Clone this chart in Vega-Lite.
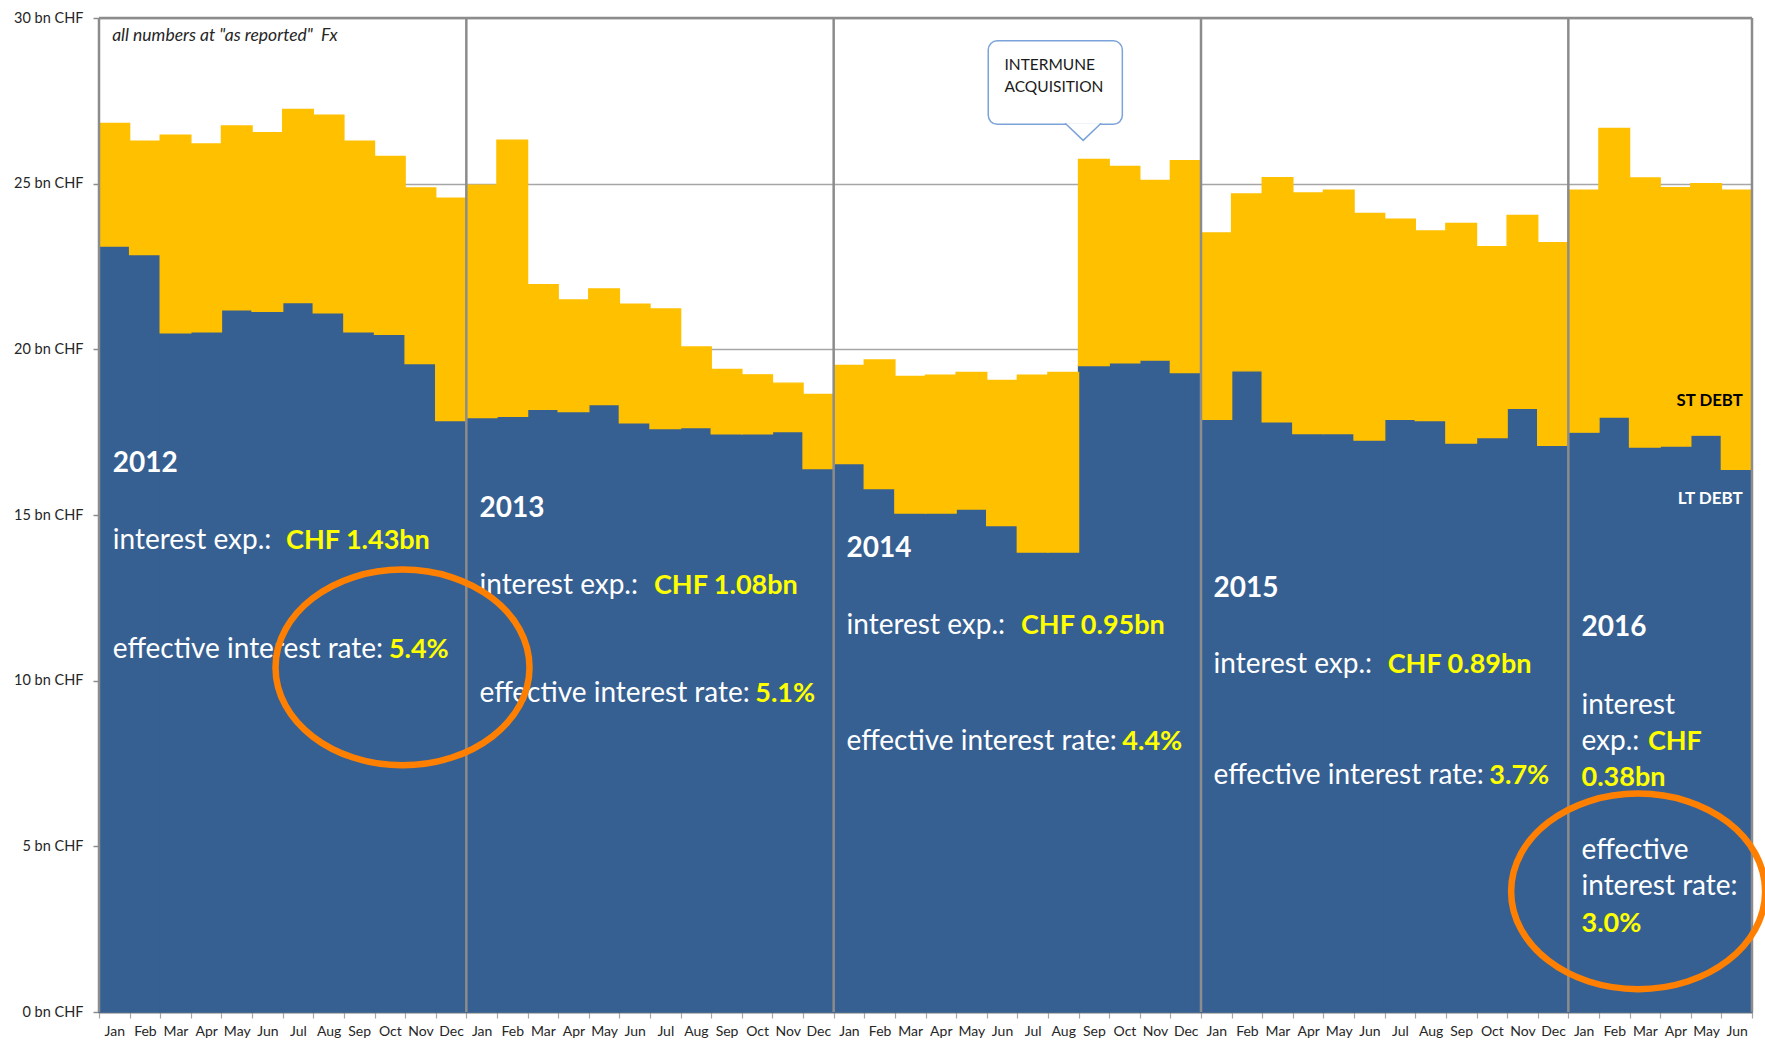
{
  "$schema": "https://vega.github.io/schema/vega-lite/v6.json",
  "width": 1653,
  "height": 994,
  "autosize": {"type": "none"},
  "padding": {"left": 99, "top": 18, "right": 13, "bottom": 29},
  "config": {"font": "Lato", "view": {"stroke": null}},
  "datasets": {
    "debt": [
      {"m": "2012-Jan", "lt": 23.12, "total": 26.82},
      {"m": "2012-Feb", "lt": 22.86, "total": 26.28},
      {"m": "2012-Mar", "lt": 20.50, "total": 26.46},
      {"m": "2012-Apr", "lt": 20.53, "total": 26.20},
      {"m": "2012-May", "lt": 21.19, "total": 26.74},
      {"m": "2012-Jun", "lt": 21.15, "total": 26.54},
      {"m": "2012-Jul", "lt": 21.41, "total": 27.24},
      {"m": "2012-Aug", "lt": 21.10, "total": 27.07},
      {"m": "2012-Sep", "lt": 20.53, "total": 26.28},
      {"m": "2012-Oct", "lt": 20.45, "total": 25.82},
      {"m": "2012-Nov", "lt": 19.57, "total": 24.87},
      {"m": "2012-Dec", "lt": 17.85, "total": 24.56},
      {"m": "2013-Jan", "lt": 17.94, "total": 24.95},
      {"m": "2013-Feb", "lt": 17.98, "total": 26.31},
      {"m": "2013-Mar", "lt": 18.19, "total": 21.95},
      {"m": "2013-Apr", "lt": 18.12, "total": 21.49},
      {"m": "2013-May", "lt": 18.33, "total": 21.82},
      {"m": "2013-Jun", "lt": 17.78, "total": 21.36},
      {"m": "2013-Jul", "lt": 17.61, "total": 21.22},
      {"m": "2013-Aug", "lt": 17.64, "total": 20.07},
      {"m": "2013-Sep", "lt": 17.45, "total": 19.39},
      {"m": "2013-Oct", "lt": 17.45, "total": 19.23},
      {"m": "2013-Nov", "lt": 17.52, "total": 18.98},
      {"m": "2013-Dec", "lt": 16.40, "total": 18.64},
      {"m": "2014-Jan", "lt": 16.55, "total": 19.51},
      {"m": "2014-Feb", "lt": 15.80, "total": 19.68},
      {"m": "2014-Mar", "lt": 15.06, "total": 19.18},
      {"m": "2014-Apr", "lt": 15.06, "total": 19.22},
      {"m": "2014-May", "lt": 15.18, "total": 19.30},
      {"m": "2014-Jun", "lt": 14.68, "total": 19.06},
      {"m": "2014-Jul", "lt": 13.88, "total": 19.22},
      {"m": "2014-Aug", "lt": 13.88, "total": 19.30},
      {"m": "2014-Sep", "lt": 19.51, "total": 25.73},
      {"m": "2014-Oct", "lt": 19.59, "total": 25.52},
      {"m": "2014-Nov", "lt": 19.68, "total": 25.10},
      {"m": "2014-Dec", "lt": 19.30, "total": 25.69},
      {"m": "2015-Jan", "lt": 17.89, "total": 23.51},
      {"m": "2015-Feb", "lt": 19.35, "total": 24.69},
      {"m": "2015-Mar", "lt": 17.81, "total": 25.18},
      {"m": "2015-Apr", "lt": 17.46, "total": 24.72},
      {"m": "2015-May", "lt": 17.46, "total": 24.80},
      {"m": "2015-Jun", "lt": 17.26, "total": 24.10},
      {"m": "2015-Jul", "lt": 17.89, "total": 23.93},
      {"m": "2015-Aug", "lt": 17.85, "total": 23.57},
      {"m": "2015-Sep", "lt": 17.17, "total": 23.80},
      {"m": "2015-Oct", "lt": 17.34, "total": 23.10},
      {"m": "2015-Nov", "lt": 18.22, "total": 24.04},
      {"m": "2015-Dec", "lt": 17.10, "total": 23.22},
      {"m": "2016-Jan", "lt": 17.50, "total": 24.80},
      {"m": "2016-Feb", "lt": 17.96, "total": 26.67},
      {"m": "2016-Mar", "lt": 17.05, "total": 25.17},
      {"m": "2016-Apr", "lt": 17.08, "total": 24.88},
      {"m": "2016-May", "lt": 17.41, "total": 25.00},
      {"m": "2016-Jun", "lt": 16.38, "total": 24.80}
    ],
    "years": [
      {"xv": 0.45, "yv": 16.29, "t": "2012"},
      {"xv": 12.43, "yv": 14.94, "t": "2013"},
      {"xv": 24.42, "yv": 13.72, "t": "2014"},
      {"xv": 36.41, "yv": 12.52, "t": "2015"},
      {"xv": 48.43, "yv": 11.36, "t": "2016"}
    ],
    "white": [
      {"xv": 0.45, "yv": 13.96, "t": "interest exp.:"},
      {"xv": 0.45, "yv": 10.69, "t": "effective interest rate:"},
      {"xv": 12.43, "yv": 12.63, "t": "interest exp.:"},
      {"xv": 12.43, "yv": 9.36, "t": "effective interest rate:"},
      {"xv": 24.42, "yv": 11.41, "t": "interest exp.:"},
      {"xv": 24.42, "yv": 7.90, "t": "effective interest rate:"},
      {"xv": 36.41, "yv": 10.22, "t": "interest exp.:"},
      {"xv": 36.41, "yv": 6.88, "t": "effective interest rate:"},
      {"xv": 48.43, "yv": 9.00, "t": "interest"},
      {"xv": 48.43, "yv": 7.90, "t": "exp.:"},
      {"xv": 48.43, "yv": 4.62, "t": "effective"},
      {"xv": 48.43, "yv": 3.53, "t": "interest rate:"}
    ],
    "yellow": [
      {"xv": 6.11, "yv": 13.96, "t": "CHF 1.43bn"},
      {"xv": 9.47, "yv": 10.69, "t": "5.4%"},
      {"xv": 18.13, "yv": 12.63, "t": "CHF 1.08bn"},
      {"xv": 21.44, "yv": 9.36, "t": "5.1%"},
      {"xv": 30.12, "yv": 11.41, "t": "CHF 0.95bn"},
      {"xv": 33.43, "yv": 7.90, "t": "4.4%"},
      {"xv": 42.10, "yv": 10.22, "t": "CHF 0.89bn"},
      {"xv": 45.42, "yv": 6.88, "t": "3.7%"},
      {"xv": 50.60, "yv": 7.90, "t": "CHF"},
      {"xv": 48.43, "yv": 6.82, "t": "0.38bn"},
      {"xv": 48.43, "yv": 2.42, "t": "3.0%"}
    ]
  },
  "layer": [
    {
      "data": {"name": "debt"},
      "layer": [
        {
          "mark": {"type": "bar", "color": "#376092", "stroke": "#376092", "strokeWidth": 1.4},
          "encoding": {
            "x": {
              "field": "m", "type": "nominal", "sort": null,
              "scale": {"paddingInner": 0, "paddingOuter": 0},
              "axis": {
                "title": null, "labelExpr": "split(datum.value, '-')[1]", "labelAngle": 0,
                "tickBand": "extent", "labelFontSize": 14, "labelColor": "#262626",
                "domainColor": "#8c8c8c", "domainWidth": 2, "tickColor": "#a6a6a6",
                "tickSize": 6, "tickWidth": 1.2, "labelPadding": 6, "grid": false
              }
            },
            "y": {
              "field": "lt", "type": "quantitative", "title": null,
              "scale": {"domain": [0, 30], "nice": false},
              "axis": {
                "values": [0, 5, 10, 15, 20, 25, 30],
                "labelExpr": "datum.value + ' bn CHF'",
                "grid": true, "gridColor": "#a6a6a6", "gridWidth": 1.5,
                "domain": false, "tickColor": "#8c8c8c", "tickSize": 6, "tickWidth": 1.5,
                "labelFontSize": 14.5, "labelColor": "#262626", "labelPadding": 10
              }
            }
          }
        },
        {
          "mark": {"type": "bar", "color": "#FFC000", "stroke": "#FFC000", "strokeWidth": 1.4},
          "encoding": {
            "x": {"field": "m", "type": "nominal", "sort": null},
            "y": {"field": "lt", "type": "quantitative", "title": null},
            "y2": {"field": "total"}
          }
        }
      ]
    },
    {
      "layer": [
        {
          "data": {"values": [{"xv": 0}, {"xv": 12}, {"xv": 24}, {"xv": 36}, {"xv": 48}, {"xv": 54}]},
          "mark": {"type": "rule", "color": "#8c8c8c", "strokeWidth": 2.5},
          "encoding": {
            "x": {"field": "xv", "type": "quantitative", "scale": {"domain": [0, 54], "nice": false, "zero": false}, "axis": null},
            "y": {"datum": 0, "type": "quantitative"},
            "y2": {"datum": 30}
          }
        },
        {
          "data": {"values": [{"x0": 0, "x1": 54, "yv": 30}]},
          "mark": {"type": "rule", "color": "#8c8c8c", "strokeWidth": 2.5},
          "encoding": {
            "x": {"field": "x0", "type": "quantitative", "axis": null},
            "x2": {"field": "x1"},
            "y": {"field": "yv", "type": "quantitative", "title": null}
          }
        },
        {
          "data": {"values": [{"x0": 29.05, "x1": 33.43, "y0": 26.79, "y1": 29.31}]},
          "mark": {"type": "rect", "fill": "white", "stroke": "#7ba3d9", "strokeWidth": 1.5, "cornerRadius": 9},
          "encoding": {
            "x": {"field": "x0", "type": "quantitative", "axis": null},
            "x2": {"field": "x1"},
            "y": {"field": "y0", "type": "quantitative", "title": null},
            "y2": {"field": "y1"}
          }
        },
        {
          "data": {"values": [{"xv": 32.15, "yv": 26.55}]},
          "mark": {"type": "point", "shape": "M -1 -0.5 L 0 0.45 L 1 -0.5", "size": 1296, "fill": "white", "fillOpacity": 1, "stroke": "#7ba3d9", "strokeWidth": 1.5, "opacity": 1},
          "encoding": {
            "x": {"field": "xv", "type": "quantitative", "axis": null},
            "y": {"field": "yv", "type": "quantitative", "title": null}
          }
        },
        {
          "data": {"values": [{"xv": 29.58, "yv": 28.44, "t": "INTERMUNE"}, {"xv": 29.58, "yv": 27.76, "t": "ACQUISITION"}]},
          "mark": {"type": "text", "align": "left", "baseline": "alphabetic", "fontSize": 15.5, "color": "#1a1a1a"},
          "encoding": {
            "x": {"field": "xv", "type": "quantitative", "axis": null},
            "y": {"field": "yv", "type": "quantitative", "title": null},
            "text": {"field": "t"}
          }
        },
        {
          "data": {"values": [{"xv": 0.43, "yv": 29.3, "t": "all numbers at \"as reported\"\u00a0 Fx"}]},
          "mark": {"type": "text", "align": "left", "baseline": "alphabetic", "fontSize": 17.5, "fontStyle": "italic", "color": "#262626"},
          "encoding": {
            "x": {"field": "xv", "type": "quantitative", "axis": null},
            "y": {"field": "yv", "type": "quantitative", "title": null},
            "text": {"field": "t"}
          }
        },
        {
          "data": {"values": [{"xv": 53.7, "yv": 18.29, "t": "ST DEBT"}]},
          "mark": {"type": "text", "align": "right", "baseline": "alphabetic", "fontSize": 16.8, "fontWeight": "bold", "color": "#000000"},
          "encoding": {
            "x": {"field": "xv", "type": "quantitative", "axis": null},
            "y": {"field": "yv", "type": "quantitative", "title": null},
            "text": {"field": "t"}
          }
        },
        {
          "data": {"values": [{"xv": 53.7, "yv": 15.32, "t": "LT DEBT"}]},
          "mark": {"type": "text", "align": "right", "baseline": "alphabetic", "fontSize": 17, "fontWeight": "bold", "color": "#ffffff"},
          "encoding": {
            "x": {"field": "xv", "type": "quantitative", "axis": null},
            "y": {"field": "yv", "type": "quantitative", "title": null},
            "text": {"field": "t"}
          }
        },
        {
          "data": {"name": "years"},
          "mark": {"type": "text", "align": "left", "baseline": "alphabetic", "fontSize": 28, "fontWeight": "bold", "color": "#ffffff"},
          "encoding": {
            "x": {"field": "xv", "type": "quantitative", "axis": null},
            "y": {"field": "yv", "type": "quantitative", "title": null},
            "text": {"field": "t"}
          }
        },
        {
          "data": {"name": "white"},
          "mark": {"type": "text", "align": "left", "baseline": "alphabetic", "fontSize": 28, "color": "#ffffff"},
          "encoding": {
            "x": {"field": "xv", "type": "quantitative", "axis": null},
            "y": {"field": "yv", "type": "quantitative", "title": null},
            "text": {"field": "t"}
          }
        },
        {
          "data": {"name": "yellow"},
          "mark": {"type": "text", "align": "left", "baseline": "alphabetic", "fontSize": 27, "fontWeight": "bold", "color": "#FFFF00"},
          "encoding": {
            "x": {"field": "xv", "type": "quantitative", "axis": null},
            "y": {"field": "yv", "type": "quantitative", "title": null},
            "text": {"field": "t"}
          }
        },
        {
          "data": {"values": [{"xv": 9.915, "yv": 10.40}, {"xv": 50.28, "yv": 3.64}]},
          "mark": {"type": "point", "shape": "M -1 0 A 1 0.77 0 1 0 1 0 A 1 0.77 0 1 0 -1 0 Z", "size": 64516, "filled": false, "stroke": "#FF8000", "strokeWidth": 6.5, "opacity": 1},
          "encoding": {
            "x": {"field": "xv", "type": "quantitative", "axis": null},
            "y": {"field": "yv", "type": "quantitative", "title": null}
          }
        }
      ]
    }
  ],
  "resolve": {"scale": {"x": "independent"}}
}
